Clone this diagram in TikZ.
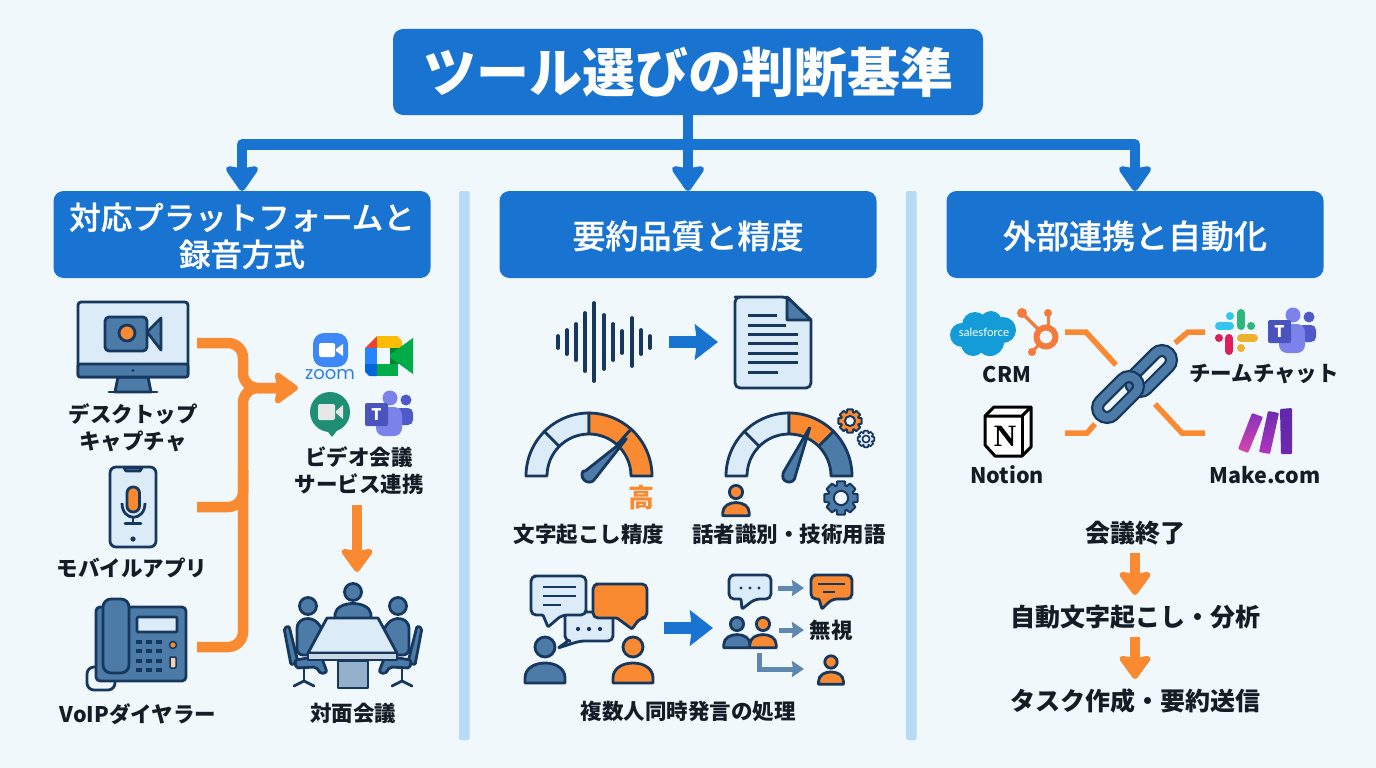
\documentclass[tikz,border=0pt]{standalone}
\usepackage{fontspec}
\setmainfont{Noto Sans CJK JP}
\setsansfont{Noto Sans CJK JP}
\newfontfamily\headfont[FakeBold=0.8]{Noto Sans CJK JP Medium}
\newfontfamily\logofont{Poppins}
\newfontfamily\sflogofont{Lato}
\newfontfamily\nlogofont{Liberation Serif}
\usetikzlibrary{positioning}
\usetikzlibrary{arrows.meta}
\definecolor{bgc}{HTML}{F1F8FC}
\definecolor{headblue}{HTML}{1973D1}
\definecolor{barblue}{HTML}{B6DBF5}
\definecolor{navy}{HTML}{16375E}
\definecolor{steel}{HTML}{4D7BA8}
\definecolor{pale}{HTML}{DCEBF8}
\definecolor{orng}{HTML}{FA8A32}
\definecolor{ink}{HTML}{141C26}
\tikzset{%
	% Specifications for style of nodes:
	headbase/.style = {rectangle, rounded corners=10pt, fill=headblue, text=white, outer sep=0pt, inner sep=0pt, align=center, font=\sffamily\bfseries},
	title/.style = {headbase, minimum width=590pt, minimum height=86pt, font=\fontsize{53}{60}\selectfont\sffamily\bfseries},
	head/.style = {headbase, text depth=0pt, minimum width=377pt, minimum height=87pt, font=\fontsize{33}{37}\selectfont\headfont},
	lab/.style = {text=ink, inner sep=0pt, align=center, font=\fontsize{21.5}{27}\selectfont\sffamily\bfseries},
	biglab/.style = {lab, font=\fontsize{25}{30}\selectfont\sffamily\bfseries},
	bluelink/.style = {draw=headblue, line width=10.5pt, line join=round, -{Stealth[length=28pt,width=38pt,inset=3pt,round]}},
	blueflow/.style = {draw=headblue, line width=12pt, -{Stealth[length=23pt,width=35pt,inset=2pt]}},
	orangelink/.style = {draw=orng, line width=10.5pt, rounded corners=15pt},
	orangeflow/.style = {orangelink, -{Stealth[length=26pt,width=37pt,inset=3pt,round]}},
	steelflow/.style = {draw=steel!90, line width=5pt, -{Stealth[length=12pt,width=16pt,inset=1pt]}},
	chainlink/.style = {draw=orng, line width=5.5pt},
	icon/.style = {draw=navy, line width=2.8pt, line join=round},
	divider/.style = {fill=barblue, rounded corners=1.5pt},
	link/.style = {rectangle, minimum width=50pt, minimum height=19pt, rounded corners=9.5pt, rotate=45, inner sep=0pt, outer sep=0pt},
}
\newcommand{\person}[3]{%
	\begin{scope}[shift={(#1)},scale=#2]
		\draw [icon,fill=#3] (0,0) circle (10);
		\draw [icon,fill=#3] (-20,36) -- (-20,31) .. controls (-20,21) and (-10,16) .. (0,16) .. controls (10,16) and (20,21) .. (20,31) -- (20,36) -- cycle;
	\end{scope}}
\newcommand{\bubble}[8]{%
	\draw [icon,fill=#8,rounded corners=5pt] ({#1+8},#2) -- (#3,#2) -- (#3,#4) -- (#5,#4) [rounded corners=1pt] -- (#7) -- (#6,#4) [rounded corners=5pt] -- (#1,#4) -- (#1,#2) -- cycle;}
\newcommand{\gear}[5]{%
	\begin{scope}[shift={(#1)}]
		\draw [icon,line width=#5,fill=#3] (-13:#2) \foreach \a in {0,45,...,315} { -- (\a-13:#2) -- (\a+13:#2) -- (\a+20:.76*#2) -- (\a+25:.76*#2) } -- cycle;
		\draw [icon,line width=#5,fill=#4] (0,0) circle ({.42*#2});
	\end{scope}}
\newcommand{\gaugeseg}[4]{%
	\draw [icon,fill=#4] (-#2:63) arc[start angle=-#2,end angle=-#3,radius=63] -- (-#3:42) arc[start angle=-#3,end angle=-#2,radius=42] -- cycle;}
\newcommand{\teamslogo}[2]{%
	\begin{scope}[shift={(#1)}]
		\fill [fill={rgb,255:red,80;green,89;blue,201}] (41,9) circle (5.5);
		\fill [fill={rgb,255:red,80;green,89;blue,201},rounded corners=5pt] (30,17) -- (48,17) -- (48,34) -- (30,34) -- cycle;
		\fill [fill={rgb,255:red,123;green,131;blue,235}] (25,7) circle (7.5);
		\fill [fill={rgb,255:red,123;green,131;blue,235},rounded corners=8pt] (11,16) -- (37,16) -- (37,45) -- (11,45) -- cycle;
		\fill [fill={rgb,255:red,75;green,83;blue,188},rounded corners=2pt] (0,12) -- (23,12) -- (23,35) -- (0,35) -- cycle;
		\node (#2) [text=white,inner sep=0pt,font=\fontsize{16}{16}\selectfont\sffamily\bfseries] at (11.5,23.5) {T};
	\end{scope}}

\begin{document}
\begin{tikzpicture}[x=1pt,y=-1pt]
	\fill [bgc] (0,0) rectangle (1376,768);
	
	\node (Title) [title] at (688,72) {ツール選びの判断基準};
	\node (Head2) [head, below=76pt of Title] {要約品質と精度};
	\node (Head1) [head, left=69pt of Head2, font=\fontsize{31.5}{37}\selectfont\headfont] {対応プラットフォームと\\録音方式};
	\node (Head3) [head, right=70pt of Head2] {外部連携と自動化};
	\coordinate (Bar) at (688,144.5);
	
	\draw [bluelink] (Bar) -| (Head1);
	\draw [bluelink] (Bar) -| (Head3);
	\draw [bluelink] (Title) -- (Head2);
	
	\fill [divider] (459,191) rectangle (469.5,740);
	\fill [divider] (906,191) rectangle (916.5,740);
	
	% left column: sources
	\draw [icon,fill=steel] (118,377) -- (148,377) -- (151,392) -- (115,392) -- cycle;
	\draw [icon,line cap=round] (109,392) -- (157,392);
	\draw [icon,fill=pale,rounded corners=3pt] (78,302) rectangle (188,377);
	\draw [icon,fill=steel,rounded corners=2pt] (78,364) rectangle (188,377);
	\fill [navy] (133,370.5) circle (1.7);
	\draw [icon,fill=steel,rounded corners=4pt] (105,317) rectangle (147,351);
	\draw [icon,fill=steel] (147,332) -- (161,318) -- (161,350) -- cycle;
	\draw [icon,fill=orng] (127,333) circle (8);
	\node (Desktop) [lab] at (133,428) {デスクトップ\\キャプチャ};
	
	\draw [icon,fill=pale,rounded corners=6pt] (110,467) rectangle (156,547);
	\draw [icon,fill=steel] (124,467.5) -- (142,467.5) -- (140,471) -- (126,471) -- cycle;
	\draw [icon,fill=orng,rounded corners=6pt] (127,487) rectangle (139.5,512);
	\draw [icon] (122,503) .. controls (122,522) and (145,522) .. (145,503);
	\draw [icon] (133,517) -- (133,523);
	\draw [icon,line cap=round] (125,523.5) -- (141,523.5);
	\fill [navy] (133,539) circle (2.6);
	\node (Mobile) [lab] at (132,568) {モバイルアプリ};
	
	\draw [icon,rounded corners=7pt] (100,667) -- (87,667) -- (87,690) -- (115,690) -- (115,675);
	\draw [icon,fill=steel,rounded corners=4pt] (96,607) rectangle (186,681);
	\draw [icon,fill=steel,rounded corners=8pt] (103,599) rectangle (129,673);
	\draw [icon,fill=pale,rounded corners=1pt] (137,617) rectangle (177,632);
	\foreach \y in {642,651,661,670}
		\foreach \x in {139,149,159}
			\fill [navy] (\x-3,\y-1.7) rectangle (\x+3,\y+1.7);
	\draw [navy,line width=1.5pt,fill=orng] (173,645) circle (3.5);
	\draw [navy,line width=1.5pt,fill=orng!40,rounded corners=1pt] (170,657) rectangle (176,668);
	\node (VoIP) [lab] at (138,714) {VoIPダイヤラー};
	
	\coordinate (DeskOut) at (197,343);
	\coordinate (MobileOut) at (197,507);
	\coordinate (VoipOut) at (197,647);
	\coordinate (Spine) at (243,470);
	\coordinate (Services) at (298,388);
	\draw [orangelink] (MobileOut) -- (243,507) -- (Spine);
	\draw [orangelink] (DeskOut) -- (243,343) -- (243,388) -- (275,388);
	\draw [orangeflow] (VoipOut) -- (243,647) -- (243,388) -- (Services);
	
	% video services logos
	\fill [fill={rgb,255:red,62;green,135;blue,247},rounded corners=11pt] (313,333) rectangle (348,367);
	\fill [white,rounded corners=2pt] (319,343) rectangle (335,357);
	\fill [white] (336,349) -- (343,344) -- (343,356) -- (336,351) -- cycle;
	\node (ZoomText) [text={rgb,255:red,45;green,127;blue,232},inner sep=0pt,font=\fontsize{18}{18}\selectfont\logofont] at (330,375) {zoom};
	
	\fill [fill={rgb,255:red,234;green,67;blue,53}] (365,348) -- (377,336) -- (377,348) -- cycle;
	\fill [fill={rgb,255:red,251;green,188;blue,4}] (377,336) -- (397,336) -- (402,341) -- (402,348) -- (377,348) -- cycle;
	\fill [fill={rgb,255:red,38;green,132;blue,252}] (365,348) rectangle (377,364);
	\fill [fill={rgb,255:red,0;green,102;blue,218}] (365,364) -- (377,364) -- (377,376) -- (369,376) -- (365,372) -- cycle;
	\fill [fill={rgb,255:red,0;green,172;blue,71}] (377,364) rectangle (398,376);
	\fill [fill={rgb,255:red,0;green,131;blue,45}] (390,348) rectangle (402,364);
	\fill [fill={rgb,255:red,0;green,172;blue,71}] (388,356) -- (413,338) -- (413,374) -- cycle;
	\fill [bgc] (377,348) rectangle (390,364);
	
	\fill [fill={rgb,255:red,30;green,142;blue,117}] (330,412) circle (20);
	\fill [fill={rgb,255:red,30;green,142;blue,117}] (325,428) -- (332,437) -- (339,428) -- cycle;
	\fill [fill={rgb,255:red,230;green,232;blue,230},rounded corners=2pt] (318,404) rectangle (335,420);
	\fill [fill={rgb,255:red,230;green,232;blue,230}] (336,411) -- (343,405) -- (343,419) -- (336,413) -- cycle;
	
	\teamslogo{365,391}{TeamsA}
	
	\node (Video) [lab] at (359,471) {ビデオ会議\\サービス連携};
	\node (InPerson) [lab] at (353,713) {対面会議};
	\coordinate (VideoOut) at (357,505);
	\coordinate (TableIn) at (357,572);
	\draw [orangeflow] (VideoOut) -- (TableIn);
	
	% meeting table with people
	\draw [icon,fill=steel] (353,592) circle (8.5);
	\draw [icon,fill=steel] (335,620) -- (335,614) .. controls (337,600) and (369,600) .. (371,614) -- (371,620) -- cycle;
	\foreach \m in {1,-1} {
		\begin{scope}[shift={(353,0)},xscale=\m]
			\draw [icon,fill=steel] (-45,606) circle (8.5);
			\draw [icon,fill=steel,rounded corners=6pt] (-56,655) -- (-56,622) -- (-44,617) -- (-33,624) -- (-22,655) -- cycle;
			\draw [icon,fill=steel,rounded corners=2pt] (-69,628) -- (-64,626) -- (-55,662) -- (-62,665) -- cycle;
			\draw [icon,fill=steel,rounded corners=2pt] (-58,660) -- (-32,656) -- (-26,672) -- (-32,674) -- (-37,667) -- (-57,668) -- cycle;
			\draw [icon] (-49,669) -- (-49,682);
			\draw [icon,line cap=round] (-59,686) -- (-49,681) -- (-39,686);
		\end{scope}
	}
	\draw [icon,fill=steel!60] (338,661) rectangle (368,688);
	\draw [icon,fill=pale] (327,618) -- (378,618) -- (397,653) -- (308,653) -- cycle;
	\draw [icon,fill=steel!30] (308,653) rectangle (397,660);
	
	% middle column: transcript
	\foreach \x/\h in {558/6,567/12,576/18,585/29,594/39,604/27,613/18,622/11,632/24,641/12,650/6}
		\draw [navy,line width=3.8pt,line cap=round] (\x,342-\h) -- (\x,342+\h);
	\coordinate (WaveOut) at (669,342);
	\coordinate (DocIn) at (718,342);
	\draw [blueflow] (WaveOut) -- (DocIn);
	
	\draw [icon,fill=pale,rounded corners=5pt] (740,297) -- (787,297) [sharp corners] -- (811,320) [rounded corners=5pt] -- (811,388) -- (735,388) -- (735,297) -- cycle;
	\draw [icon,fill=steel] (787,297) -- (787,320) -- (811,320) -- cycle;
	\foreach \y/\e in {315/777,325/786,334/798,343/798,353/798,362/798,372/778}
		\draw [navy,line width=3pt] (748,\y) -- (\e,\y);
	
	% gauges
	\begin{scope}[shift={(589,476)}]
		\gaugeseg{0}{180}{135}{pale}
		\gaugeseg{0}{135}{90}{pale}
		\gaugeseg{0}{90}{48}{orng}
		\gaugeseg{0}{48}{0}{orng}
		\draw [icon,fill=steel,rounded corners=1pt] (-5,-4) -- (38,-38) -- (5,4) arc[start angle=45,end angle=225,radius=7] -- cycle;
	\end{scope}
	\node (High) [lab, text=orng, font=\fontsize{26}{26}\selectfont\sffamily\bfseries] at (641,498) {高};
	\node (Accuracy) [lab] at (589,534) {文字起こし精度};
	
	\begin{scope}[shift={(789,476)}]
		\gaugeseg{0}{180}{135}{pale}
		\gaugeseg{0}{135}{90}{pale}
		\gaugeseg{0}{90}{45}{orng}
		\gaugeseg{0}{45}{0}{steel}
		\draw [icon,fill=steel,rounded corners=1pt] (-6,-3) -- (21,-49) -- (6,1) arc[start angle=10,end angle=170,radius=6.2] -- cycle;
	\end{scope}
	\gear{850,421}{12}{orng}{bgc}{2pt}
	\gear{866,439}{8.5}{pale}{bgc}{1.6pt}
	\gear{841,498}{17}{steel}{bgc}{2pt}
	\person{736,492}{.66}{orng}
	\node (Speaker) [lab] at (789,534) {話者識別・技術用語};
	
	% simultaneous speech
	\bubble{565}{612}{613}{641}{580}{568}{558,648}{pale}
	\bubble{531}{576}{586}{615}{562}{543}{548,627}{pale}
	\bubble{593}{584}{647}{618}{640}{617}{632,629}{orng}
	\foreach \y/\e in {587/576,596/576,605/561}
		\draw [navy,line width=2.5pt] (543,\y) -- (\e,\y);
	\foreach \x in {578,589,600}
		\fill [navy] (\x,629) circle (2.1);
	\person{545,647}{1}{steel}
	\person{633,647}{1}{orng}
	\coordinate (CrowdOut) at (664,628);
	\coordinate (SplitIn) at (713,628);
	\draw [blueflow] (CrowdOut) -- (SplitIn);
	
	\bubble{729}{575}{771}{599}{755}{741}{742,609}{pale}
	\foreach \x in {741,750,759}
		\fill [navy] (\x,588) circle (1.6);
	\bubble{811}{575}{852}{599}{832}{819}{822,609}{orng}
	\draw [navy,line width=1.8pt] (818,584) -- (845,584);
	\draw [navy,line width=1.8pt] (823,592) -- (835,592);
	\person{737,624}{.66}{steel}
	\person{763,624}{.66}{orng}
	\person{831,662}{.62}{orng}
	\coordinate (BubbleOut) at (778,588);
	\coordinate (BubbleIn) at (804,588);
	\coordinate (IgnoreOut) at (779,630);
	\coordinate (IgnoreIn) at (804,630);
	\coordinate (ElbowOut) at (759,653);
	\coordinate (ElbowIn) at (804,669);
	\node (Ignore) [lab] at (831,630) {無視};
	\draw [steelflow] (BubbleOut) -- (BubbleIn);
	\draw [steelflow] (IgnoreOut) -- (IgnoreIn);
	\draw [steelflow] (ElbowOut) |- (ElbowIn);
	\node (Overlap) [lab] at (688,711) {複数人同時発言の処理};
	
	% right column: integrations
	\foreach \x/\y/\r in {962/335/12,975/325/13,991/322/11,1003/330/13,990/342/14,973/344/12}
		\fill [fill={rgb,255:red,19;green,156;blue,216}] (\x,\y) circle (\r);
	\node (SfText) [text=white,inner sep=0pt,font=\fontsize{11.5}{12}\selectfont\sflogofont] at (984,332) {salesforce};
	
	\draw [line width=3.5pt,draw={rgb,255:red,244;green,123;blue,60}] (1022,313) -- (1046,337);
	\draw [line width=3pt,draw={rgb,255:red,244;green,123;blue,60}] (1048,313) -- (1048,337);
	\draw [line width=3pt,draw={rgb,255:red,244;green,123;blue,60}] (1032,352) -- (1046,337);
	\fill [fill={rgb,255:red,244;green,123;blue,60}] (1022,313) circle (5);
	\fill [fill={rgb,255:red,244;green,123;blue,60}] (1048,313) circle (4);
	\fill [fill={rgb,255:red,244;green,123;blue,60}] (1032,352) circle (4);
	\draw [line width=6pt,draw={rgb,255:red,244;green,123;blue,60},fill=bgc] (1046,337) circle (9.5);
	\node (CRM) [lab] at (1007,374) {CRM};
	
	\draw [black,line width=3pt,line join=round,fill=white] (985,416) -- (994,407) -- (1031,407) -- (1031,447) -- (1022,456) -- (995,456) -- (985,445) -- cycle;
	\draw [black,line width=3pt,line join=round] (985,416) -- (1022,416) -- (1031,407);
	\draw [black,line width=3pt] (1022,416) -- (1022,456);
	\node (NLogo) [text=black,inner sep=0pt,font=\fontsize{31}{31}\selectfont\nlogofont\bfseries] at (1005,436) {N};
	\node (Notion) [lab] at (1007,475) {Notion};
	
	\node (LinkB) [link, draw=navy, line width=13pt] at (1151,371) {};
	\node (LinkBin) [link, draw=steel, line width=8.5pt] at (1151,371) {};
	\node (LinkA) [link, draw=navy, line width=13pt] at (1118,397) {};
	\node (LinkAin) [link, draw=steel, line width=8.5pt] at (1118,397) {};
	
	\coordinate (CrmOut) at (1065,332);
	\coordinate (ChatOut) at (1205,332);
	\coordinate (NotionOut) at (1065,433);
	\coordinate (MakeOut) at (1205,433);
	\coordinate (ChainTL) at (1116,365);
	\coordinate (ChainTR) at (1175,343);
	\coordinate (ChainBL) at (1095,424);
	\coordinate (ChainBR) at (1155,404);
	\draw [chainlink] (CrmOut) -- (1086,332) -- (ChainTL);
	\draw [chainlink] (ChatOut) -- (1188,332) -- (ChainTR);
	\draw [chainlink] (NotionOut) -- (1087,433) -- (ChainBL);
	\draw [chainlink] (MakeOut) -- (1182,433) -- (ChainBR);
	
	% slack logo
	\begin{scope}[shift={(1235,332)},line cap=round,line width=8pt]
		\draw [draw={rgb,255:red,54;green,197;blue,240}] (-16,-6) -- (-5,-6);
		\draw [draw={rgb,255:red,54;green,197;blue,240}] (-5,-16) -- (-5,-15.9);
		\draw [draw={rgb,255:red,46;green,182;blue,125}] (6,-19) -- (6,-6);
		\draw [draw={rgb,255:red,46;green,182;blue,125}] (16,-6) -- (16.1,-6);
		\draw [draw={rgb,255:red,236;green,178;blue,46}] (6,6) -- (19,6);
		\draw [draw={rgb,255:red,236;green,178;blue,46}] (6,16) -- (6,16.1);
		\draw [draw={rgb,255:red,224;green,30;blue,90}] (-6,6) -- (-6,19);
		\draw [draw={rgb,255:red,224;green,30;blue,90}] (-16,6) -- (-16.1,6);
	\end{scope}
	\teamslogo{1268,308}{TeamsB}
	\node (Chat) [lab] at (1264,374) {チームチャット};
	
	% make logo
	\shade [top color={rgb,255:red,140;green,48;blue,190},bottom color={rgb,255:red,214;green,70;blue,170},rounded corners=1pt] (1252,413) -- (1263,417) -- (1248,453) -- (1238,449) -- cycle;
	\shade [top color={rgb,255:red,110;green,44;blue,180},bottom color={rgb,255:red,176;green,52;blue,190},rounded corners=1pt] (1268,411) -- (1279,413) -- (1270,454) -- (1259,452) -- cycle;
	\shade [top color={rgb,255:red,96;green,40;blue,170},bottom color={rgb,255:red,110;green,40;blue,176},rounded corners=1pt] (1280,409) -- (1292,408) -- (1292,454) -- (1281,454) -- cycle;
	\node (Make) [lab] at (1265,475) {Make.com};
	
	\node (End) [biglab] at (1135,533) {会議終了};
	\node (Auto) [biglab] at (1135,617) {自動文字起こし・分析};
	\node (Task) [biglab] at (1135,701) {タスク作成・要約送信};
	\coordinate (EndOut) at (1135,553);
	\coordinate (AutoIn) at (1135,595);
	\coordinate (AutoOut) at (1135,637);
	\coordinate (TaskIn) at (1135,679);
	\draw [orangeflow] (EndOut) -- (AutoIn);
	\draw [orangeflow] (AutoOut) -- (TaskIn);
	
\end{tikzpicture}
\end{document}
